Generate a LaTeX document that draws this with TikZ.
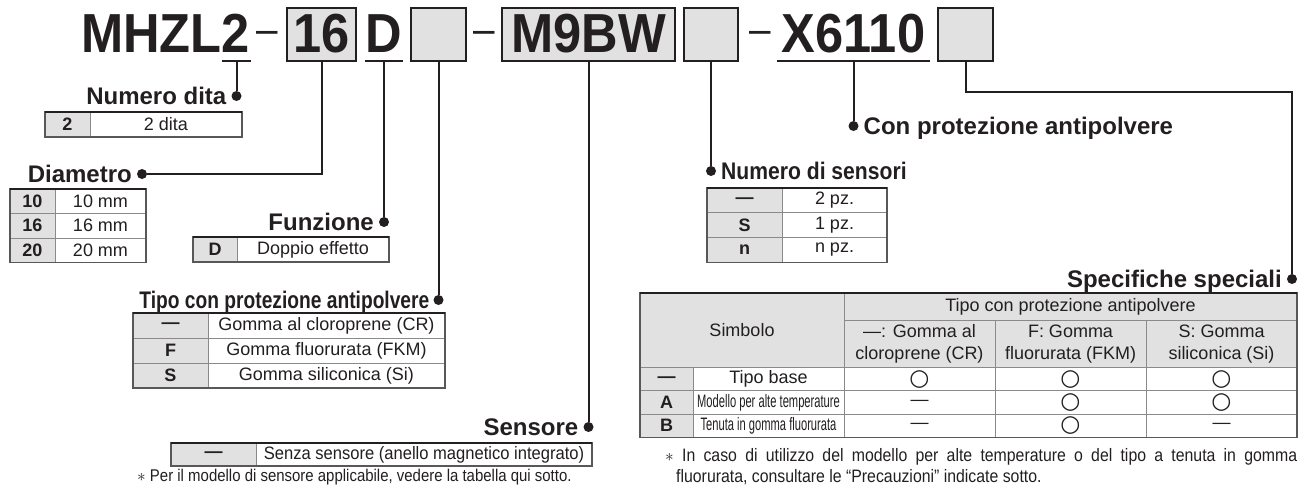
\documentclass[tikz,border=0pt]{standalone}
\usepackage{fontspec}
\usepackage{graphicx}
\setmainfont{Liberation Sans}
\newfontfamily\titlefont{Liberation Sans}[FakeStretch=0.92]
\newfontfamily\narrowfont{Liberation Sans}[FakeStretch=0.62]
\newfontfamily\notefont{Liberation Sans}[FakeStretch=0.88]
\newfontfamily\symfont{DejaVu Sans}
\definecolor{ink}{HTML}{231F20}
\definecolor{keyfill}{HTML}{E1E1E1}
\definecolor{rule}{HTML}{8A8A8A}
\newcommand{\ok}{{\symfont\fontsize{23}{24}\selectfont ○}}
\tikzset{
  codefont/.style={font=\titlefont\fontsize{55}{60}\selectfont\bfseries, text=ink},
  codetxt/.style={codefont, inner sep=0},
  codecell/.style={codefont, inner sep=0, outer sep=0, minimum height=53, text height=39pt, text depth=4pt},
  codebox/.style={codecell, draw=ink, line width=2, fill=keyfill},
  dashc/.style={font=\titlefont\fontsize{42}{44}\selectfont, text=ink, inner sep=0, anchor=base},
  conn/.style={draw=ink, line width=2},
  dot/.style={circle, fill=ink, inner sep=0, minimum size=10},
  lab/.style={font=\fontsize{24}{28}\selectfont\bfseries, text=ink, inner sep=0},
  keyc/.style={draw=rule, line width=1, fill=keyfill, inner sep=0, outer sep=0, anchor=north west, text=ink, font=\fontsize{18}{20}\selectfont\bfseries},
  valc/.style={keyc, fill=white, font=\fontsize{18}{20}\selectfont},
  hcell/.style={valc, fill=keyfill, align=center, font=\fontsize{18}{22}\selectfont},
  frame/.style={draw=ink!75, line width=1.2},
  topline/.style={draw=ink, line width=2.4},
  note/.style={font=\notefont\fontsize{17}{20}\selectfont, text=ink, inner sep=0, anchor=base west},
  note2/.style={note, font=\notefont\fontsize{18}{20}\selectfont}
}
\begin{document}
\begin{tikzpicture}[x=1pt,y=-1pt]
\useasboundingbox (0,0) rectangle (1311,491);

% model code
\node[codetxt, anchor=base east] (mhzl) at (250,52) {MHZL2};
\node[dashc] (h1) at (267.5,43) {–};
\node[codebox, minimum width=69] (b16) at (321.5,34.5) {16};
\node[codecell, minimum width=38] (bD) at (384,34.5) {D};
\node[codebox, minimum width=55] (bTipo) at (438.5,34.5) {};
\node[dashc] (h2) at (484,43) {–};
\node[codebox, minimum width=173] (bSen) at (588.5,34.5) {M9BW};
\node[codebox, minimum width=54] (bNum) at (711,34.5) {};
\node[dashc] (h3) at (760,43) {–};
\node[codecell, minimum width=153] (bX) at (853.5,34.5) {X6110};
\node[codebox, minimum width=55] (bSpec) at (965.5,34.5) {};
\coordinate (u2) at (236.5,61);
\draw[conn] ([xshift=-14.5pt]u2) -- ([xshift=14.5pt]u2);
\draw[conn] (bD.south west) -- (bD.south east);
\draw[conn] (bX.south west) -- (bX.south east);

% leader dots
\node[dot] (dNum) at (236.5,96) {};
\node[dot] (dDia) at (142,174) {};
\node[dot] (dFun) at (384,222) {};
\node[dot] (dTipo) at (438.5,300) {};
\node[dot] (dSen) at (588.5,427) {};
\node[dot] (dNsen) at (711,171) {};
\node[dot] (dCon) at (853.5,126) {};
\node[dot] (dSpec) at (1292,279) {};
\coordinate (kSpec) at (1292,92);

\draw[conn] (u2) -- (dNum);
\draw[conn] (b16.south) |- (dDia);
\draw[conn] (bD.south) -- (dFun);
\draw[conn] (bTipo.south) -- (dTipo);
\draw[conn] (bSen.south) -- (dSen);
\draw[conn] (bNum.south) -- (dNsen);
\draw[conn] (bX.south) -- (dCon);
\draw[conn] (bSpec.south) |- (kSpec) -- (dSpec);

% labels
\node[lab, anchor=base east] (lNum) at ([xshift=-10pt,yshift=-8.6pt]dNum) {Numero dita};
\node[lab, anchor=base east] (lDia) at ([xshift=-10pt,yshift=-8.6pt]dDia) {Diametro};
\node[lab, anchor=base east] (lFun) at ([xshift=-10pt,yshift=-8.6pt]dFun) {Funzione};
\node[lab, anchor=base east] (lTipo) at ([xshift=-9pt,yshift=-8.6pt]dTipo) {\scalebox{0.8}[1]{Tipo con protezione antipolvere}};
\node[lab, anchor=base east] (lSen) at ([xshift=-10pt,yshift=-8.6pt]dSen) {Sensore};
\node[lab, anchor=base west] (lNsen) at ([xshift=10pt,yshift=-8.6pt]dNsen) {\scalebox{0.88}[1]{Numero di sensori}};
\node[lab, anchor=base west] (lCon) at ([xshift=10pt,yshift=-8.6pt]dCon) {Con protezione antipolvere};
\node[lab, anchor=base east] (lSpec) at ([xshift=-10pt,yshift=-8.6pt]dSpec) {Specifiche speciali};

% Numero dita
\node[keyc, minimum width=45, minimum height=25] (k2) at (45,112) {2};
\node[valc, minimum width=152, minimum height=25] (v2) at (90,112) {2 dita};
\draw[frame] (k2.north west) rectangle (v2.south east);
\draw[topline] (k2.north west) -- (v2.north east);

% Diametro
\foreach \s [count=\k from 0] in {10,16,20} {
  \node[keyc, minimum width=45, minimum height=24.5] (kd\s) at (10,189+24.5*\k) {\s};
  \node[valc, minimum width=91, minimum height=24.5] (vd\s) at (55,189+24.5*\k) {\s{} mm};
}
\draw[frame] (kd10.north west) rectangle (vd20.south east);
\draw[topline] (kd10.north west) -- (vd10.north east);

% Funzione
\node[keyc, minimum width=44, minimum height=25] (kD) at (193,237) {D};
\node[valc, minimum width=152, minimum height=25] (vD) at (237,237) {Doppio effetto};
\draw[frame] (kD.north west) rectangle (vD.south east);
\draw[topline] (kD.north west) -- (vD.north east);

% Tipo con protezione antipolvere
\foreach \s/\v [count=\k from 0] in {—/Gomma al cloroprene (CR),F/Gomma fluorurata (FKM),S/Gomma siliconica (Si)} {
  \node[keyc, minimum width=75, minimum height=25] (kt\k) at (133,313+25*\k) {\s};
  \node[valc, minimum width=237, minimum height=25] (vt\k) at (208,313+25*\k) {\v};
}
\draw[frame] (kt0.north west) rectangle (vt2.south east);
\draw[topline] (kt0.north west) -- (vt0.north east);

% Numero di sensori
\foreach \s/\v [count=\k from 0] in {—/2 pz.,S/1 pz.,n/n pz.} {
  \node[keyc, minimum width=75, minimum height=24.7] (kn\k) at (707,188+24.7*\k) {\s};
  \node[valc, minimum width=105, minimum height=24.7] (vn\k) at (782,188+24.7*\k) {\v};
}
\draw[frame] (kn0.north west) rectangle (vn2.south east);
\draw[topline] (kn0.north west) -- (vn0.north east);

% Sensore
\node[keyc, minimum width=85, minimum height=23] (kS) at (171,443) {—};
\node[valc, minimum width=336, minimum height=23] (vS) at (256,443) {\scalebox{0.92}[1]{Senza sensore (anello magnetico integrato)}};
\draw[frame] (kS.north west) rectangle (vS.south east);
\draw[topline] (kS.north west) -- (vS.north east);
\node[note] (fnSen) at (137,481) {$\ast$ Per il modello di sensore applicabile, vedere la tabella qui sotto.};

% Specifiche speciali
\node[hcell, minimum width=204, minimum height=74.5] (hSym) at (640,293) {Simbolo};
\node[hcell, minimum width=453, minimum height=27.5] (hTipo) at (844,293) {Tipo con protezione antipolvere};
\node[hcell, minimum width=151, minimum height=47] (hCR) at (844,320.5) {—: Gomma al\\cloroprene (CR)};
\node[hcell, minimum width=151, minimum height=47] (hFKM) at (995,320.5) {F: Gomma\\fluorurata (FKM)};
\node[hcell, minimum width=151, minimum height=47] (hSi) at (1146,320.5) {S: Gomma\\siliconica (Si)};
\foreach \s/\d/\a/\b/\c [count=\k from 0] in {—/Tipo base/\ok/\ok/\ok,A/{\narrowfont Modello per alte temperature}/—/\ok/\ok,B/{\narrowfont Tenuta in gomma fluorurata}/—/\ok/—} {
  \node[keyc, minimum width=53, minimum height=23.3] (s\k) at (640,367.5+23.3*\k) {\s};
  \node[valc, minimum width=151, minimum height=23.3] (d\k) at (693,367.5+23.3*\k) {\d};
  \node[valc, minimum width=151, minimum height=23.3] (ma\k) at (844,367.5+23.3*\k) {\a};
  \node[valc, minimum width=151, minimum height=23.3] (mb\k) at (995,367.5+23.3*\k) {\b};
  \node[valc, minimum width=151, minimum height=23.3] (mc\k) at (1146,367.5+23.3*\k) {\c};
}
\draw[frame] (hSym.north west) rectangle (mc2.south east);
\draw[topline] (hSym.north west) -- (hTipo.north east);
\node[note2] (fnA) at (665,461) {\makebox[632pt][s]{$\ast$ In caso di utilizzo del modello per alte temperature o del tipo a tenuta in gomma}};
\node[note2] (fnB) at (676,482) {fluorurata, consultare le “Precauzioni” indicate sotto.};
\end{tikzpicture}
\end{document}
